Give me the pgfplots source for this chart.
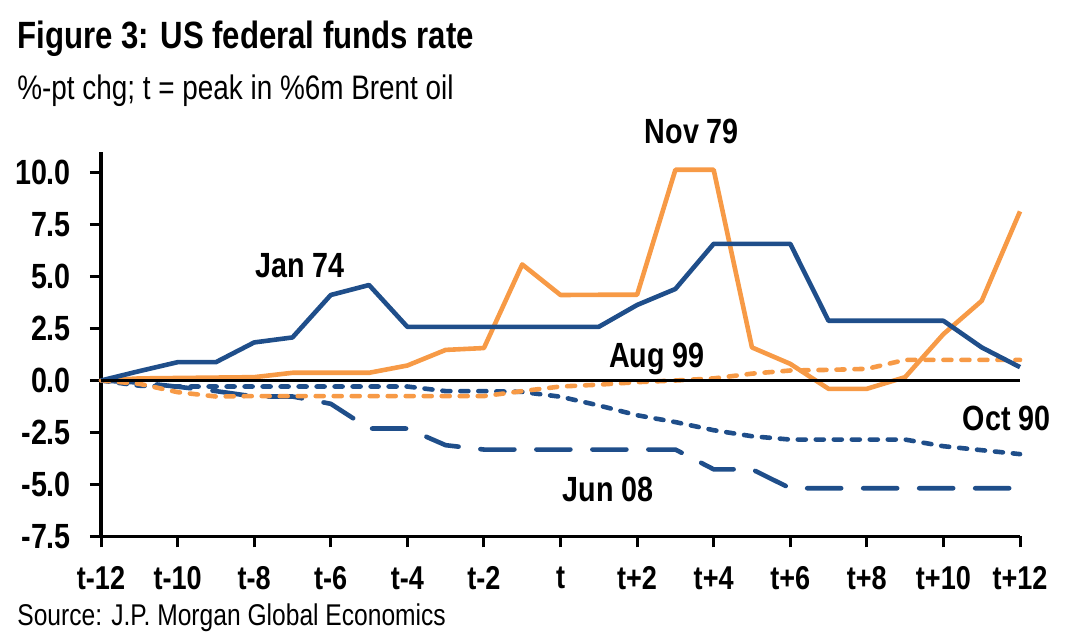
\documentclass[border=0pt]{standalone}
\usepackage{fontspec}
\setmainfont{Liberation Sans}[FakeStretch=0.82]
\usepackage{pgfplots}
\pgfplotsset{compat=1.18}
\definecolor{jpblue}{HTML}{1F4E8A}
\definecolor{jporange}{HTML}{F79A46}
\begin{document}
\begin{tikzpicture}[x=0.5pt,y=0.5pt]
\path[use as bounding box] (0,0) rectangle (1074,640);
\node[anchor=base west,inner sep=0pt] at (17,591) {\fontsize{19}{22}\selectfont\bfseries Figure 3: US federal funds rate};
\node[anchor=base west,inner sep=0pt] at (17,540) {\fontsize{17}{20}\selectfont \%-pt chg; t = peak in \%6m Brent oil};
\node[anchor=base west,inner sep=0pt] at (17,14) {\fontsize{15}{18}\selectfont Source: J.P. Morgan Global Economics};
\begin{axis}[
  at={(50.5pt,51.75pt)}, anchor=south west,
  scale only axis, width=459.5pt, height=192.4pt,
  xmin=-12, xmax=12, ymin=-7.5, ymax=11,
  axis x line=bottom, axis y line=left,
  axis line style={-, line width=1.8pt, black},
  xtick={-12,-10,...,12},
  xticklabels={t-12,t-10,t-8,t-6,t-4,t-2,t,t+2,t+4,t+6,t+8,t+10,t+12},
  ytick={-7.5,-5,-2.5,0,2.5,5,7.5,10},
  tick align=outside, major tick length=5.5pt,
  tick style={line width=1.5pt, black},
  /pgf/number format/assume math mode=true,
  yticklabel style={/pgf/number format/fixed, /pgf/number format/fixed zerofill, /pgf/number format/precision=1, font=\fontsize{17.5}{20}\selectfont\bfseries, xshift=-6pt},
  xticklabel style={font=\fontsize{16.5}{19}\selectfont\bfseries, yshift=-6pt},
  clip=false,
  every axis plot/.append style={line width=2.3pt, line join=round},
]
% Jun 08
\addplot[jpblue, line cap=round, dash pattern=on 17pt off 11pt] coordinates {
(-12,0) (-11,-0.1) (-10,-0.3) (-9,-0.51) (-8,-0.77) (-7,-0.77) (-6,-1.12) (-5,-2.31) (-4,-2.31) (-3,-3.11) (-2,-3.32) (-1,-3.32) (0,-3.32) (1,-3.32) (2,-3.32) (3,-3.32) (4,-4.27) (5,-4.27) (6,-5.18) (7,-5.18) (8,-5.18) (9,-5.18) (10,-5.18) (11,-5.18) (12,-5.18)};
% Oct 90
\addplot[jpblue, line cap=round, dash pattern=on 4pt off 5pt] coordinates {
(-12,0) (-11,-0.25) (-10,-0.29) (-9,-0.29) (-8,-0.29) (-7,-0.29) (-6,-0.29) (-5,-0.29) (-4,-0.29) (-3,-0.51) (-2,-0.51) (-1,-0.55) (0,-0.78) (1,-1.2) (2,-1.67) (3,-2.0) (4,-2.39) (5,-2.68) (6,-2.84) (7,-2.84) (8,-2.84) (9,-2.84) (10,-3.16) (11,-3.35) (12,-3.54)};
% Aug 99
\addplot[jporange, line cap=round, dash pattern=on 4pt off 5pt] coordinates {
(-12,0) (-11,-0.16) (-10,-0.56) (-9,-0.77) (-8,-0.75) (-7,-0.75) (-6,-0.75) (-5,-0.75) (-4,-0.75) (-3,-0.75) (-2,-0.75) (-1,-0.51) (0,-0.29) (1,-0.2) (2,-0.08) (3,0) (4,0.1) (5,0.33) (6,0.48) (7,0.51) (8,0.56) (9,0.99) (10,0.99) (11,0.99) (12,0.99)};
% Nov 79
\addplot[jporange] coordinates {
(-12,0) (-11,0.1) (-10,0.12) (-9,0.14) (-8,0.16) (-7,0.37) (-6,0.37) (-5,0.37) (-4,0.72) (-3,1.47) (-2,1.56) (-1,5.58) (0,4.11) (1,4.12) (2,4.12) (3,10.13) (4,10.13) (5,1.59) (6,0.8) (7,-0.4) (8,-0.4) (9,0.16) (10,2.23) (11,3.83) (12,8.13)};
% Jan 74
\addplot[jpblue] coordinates {
(-12,0) (-11,0.45) (-10,0.88) (-9,0.88) (-8,1.83) (-7,2.07) (-6,4.11) (-5,4.59) (-4,2.58) (-3,2.58) (-2,2.58) (-1,2.58) (0,2.58) (1,2.58) (2,3.63) (3,4.4) (4,6.57) (5,6.57) (6,6.57) (7,2.87) (8,2.87) (9,2.87) (10,2.87) (11,1.59) (12,0.64)};
\draw[black, line width=1.5pt] (axis cs:-12,0) -- (axis cs:12,0);
\begin{scope}[every node/.style={font=\fontsize{17.5}{20}\selectfont\bfseries}]
\node at (axis cs:-6.8,5.5) {Jan 74};
\node at (axis cs:3.43,11.96) {Nov 79};
\node at (axis cs:2.52,1.05) {Aug 99};
\node at (axis cs:11.65,-1.82) {Oct 90};
\node at (axis cs:1.24,-5.26) {Jun 08};
\end{scope}
\end{axis}
\end{tikzpicture}
\end{document}
